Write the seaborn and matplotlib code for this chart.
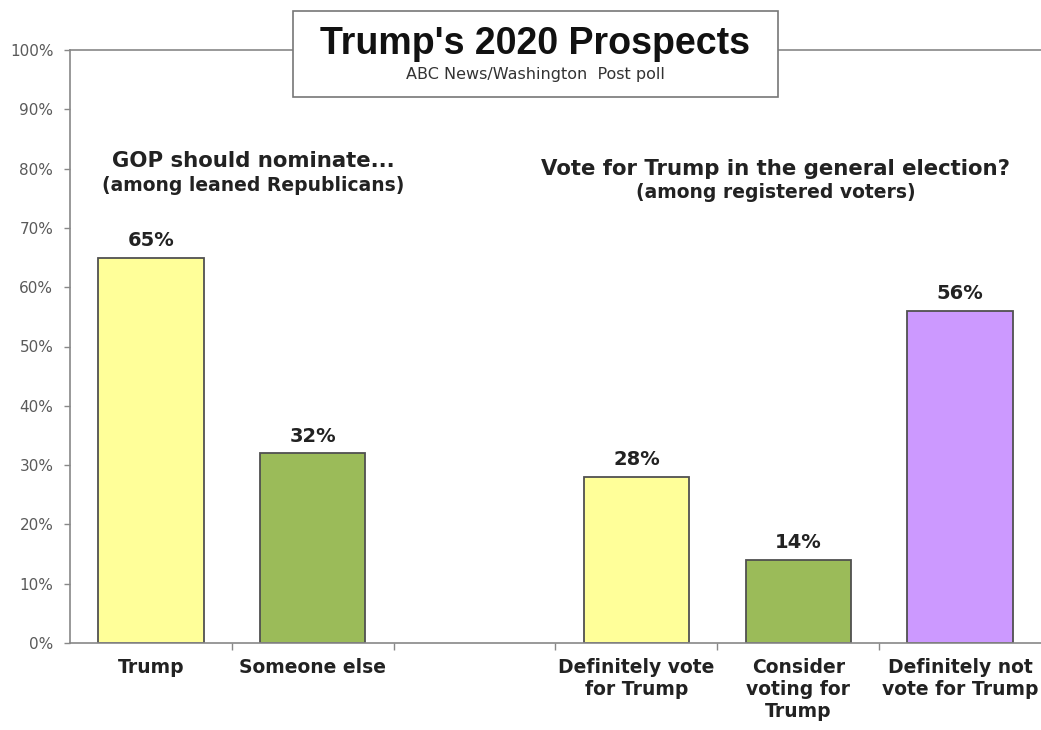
import os
import matplotlib
matplotlib.use("Agg")
import matplotlib.pyplot as plt
import seaborn as sns
import pandas as pd
import numpy as np
from matplotlib.patches import Rectangle
from matplotlib import font_manager

categories = ["Trump", "Someone else", "Definitely vote\nfor Trump",
              "Consider\nvoting for\nTrump", "Definitely not\nvote for Trump"]
values = [65, 32, 28, 14, 56]
colors = ["#FFFF99", "#9BBB59", "#FFFF99", "#9BBB59", "#CC99FF"]
order = ["Trump", "Someone else", " ", "Definitely vote\nfor Trump",
         "Consider\nvoting for\nTrump", "Definitely not\nvote for Trump"]
yticks = [0, 10, 20, 30, 40, 50, 60, 70, 80, 90, 100]

sns.set_style("white")
plt.rcParams['font.family'] = ['DejaVu Sans']

df = pd.DataFrame({"cat": categories, "val": values})
fig = plt.figure(figsize=(10.41, 7.3), dpi=100)
ax = fig.add_axes([70/1041, 1 - 643/730, 1 - 70/1041, (643 - 50)/730])

sns.barplot(data=df, x="cat", y="val", order=order, hue="cat", hue_order=categories,
            palette=dict(zip(categories, colors)), dodge=False, width=0.65,
            saturation=1, edgecolor="#505050", linewidth=1.3, legend=False, ax=ax)

ax.set_xlim(-0.5, 5.5)
ax.set_ylim(0, 100)
ax.set_yticks(yticks)
ax.set_yticklabels([f"{t}%" for t in yticks], fontsize=11, color="#5a5a5a")
ax.set_xlabel("")
ax.set_ylabel("")
ax.tick_params(axis="y", length=4, width=1, color="#888888", direction="out", left=True, pad=8)
ax.tick_params(axis="x", length=0, pad=11)
ax.set_xticks(np.arange(len(order)))
ax.set_xticklabels(order, fontsize=13.5, fontweight="bold", color="#222222")
ax.set_xticks(np.arange(0.5, 5.0, 1.0), minor=True)
ax.tick_params(axis="x", which="minor", length=5, width=1, color="#888888", direction="out", bottom=True)

for s in ["left", "bottom", "top"]:
    ax.spines[s].set_color("#888888")
    ax.spines[s].set_linewidth(1.2)
ax.spines["right"].set_visible(False)

for p, v in zip([0, 1, 3, 4, 5], values):
    ax.text(p, v + 1.3, f"{v}%", ha="center", va="bottom", fontsize=14,
            fontweight="bold", color="#222222")

# section headings
ax.text(0.635, 81.2, "GOP should nominate...", ha="center", va="center",
        fontsize=15.3, fontweight="bold", color="#222222")
ax.text(0.635, 77.2, "(among leaned Republicans)", ha="center", va="center",
        fontsize=13.5, fontweight="bold", color="#222222")
ax.text(3.86, 80.0, "Vote for Trump in the general election?", ha="center", va="center",
        fontsize=15.3, fontweight="bold", color="#222222")
ax.text(3.86, 75.9, "(among registered voters)", ha="center", va="center",
        fontsize=13.5, fontweight="bold", color="#222222")

# title box
box = Rectangle((293/1041, 1 - 97/730), (778 - 293)/1041, (97 - 11)/730,
                transform=fig.transFigure, facecolor="white", edgecolor="#777777",
                linewidth=1.2, zorder=5)
fig.patches.append(box)

title_path = None
for f in font_manager.findSystemFonts():
    if os.path.basename(f).lower() == "liberationsans-bold.ttf":
        title_path = f
        break
if title_path:
    title_fp = font_manager.FontProperties(fname=title_path, size=27)
else:
    title_fp = font_manager.FontProperties(family="DejaVu Sans", weight="bold", size=24)
fig.text(535/1041, 1 - 44/730, "Trump's 2020 Prospects", ha="center", va="center",
         fontproperties=title_fp, color="#111111", zorder=6)
fig.text(535/1041, 1 - 75/730, "ABC News/Washington  Post poll", ha="center", va="center",
         fontsize=11.5, color="#333333", zorder=6)

fig.savefig("out.png", dpi=100)
